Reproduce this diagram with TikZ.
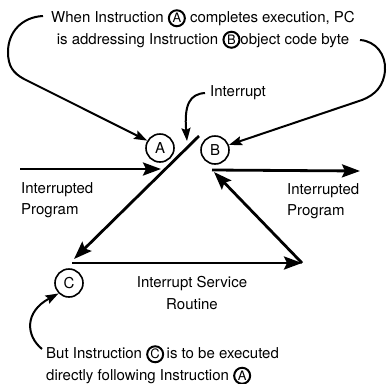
\documentclass[tikz,border=0pt]{standalone}
\usepackage{fontspec}
\setmainfont{TeX Gyre Heros}
\usepackage{tikz}
\usetikzlibrary{arrows.meta}
\newcommand{\circled}[1]{\tikz[baseline=(ltr.base)]\node[draw,circle,line width=2pt,inner sep=0pt,minimum size=16pt,font=\fontsize{13}{13}\selectfont](ltr){#1};}

\begin{document}
\begin{tikzpicture}[x=1pt,y=-1pt,
  lbl/.style={font=\fontsize{15}{21.5}\selectfont,inner sep=0pt},
  stage/.style={draw,circle,line width=1.6pt,minimum size=28pt,inner sep=0pt,font=\fontsize{15}{15}\selectfont},
  flow/.style={line width=2.8pt,-{Stealth[length=18pt,width=13pt,inset=3pt]}},
  note/.style={line width=2pt,-{Stealth[length=13pt,width=9pt,inset=2pt]}}]
  \useasboundingbox (0,0) rectangle (387,383);
  % texts
  \node[lbl,align=center] (topnote) at (203,29) {When Instruction \circled{A} completes execution, PC\\is addressing Instruction \circled{B}object code byte};
  \node[lbl,align=left,anchor=west] (botnote) at (46,365) {But Instruction \circled{C}\,is to be executed\\directly following Instruction \circled{A}};
  \node[lbl,anchor=west] (intr) at (210,93) {Interrupt};
  \node[lbl,align=left,anchor=west] (inL) at (21,200) {Interrupted\\Program};
  \node[lbl,align=left,anchor=west] (outR) at (287,201) {Interrupted\\Program};
  \node[lbl,align=center] (isr) at (192,293) {Interrupt Service\\Routine};
  % circled instructions
  \node[stage] (a) at (160,148) {A};
  \node[stage] (b) at (215,150) {B};
  \node[stage] (c) at (69,283) {C};
  % corners of the flow
  \coordinate (slashtop) at (199,136);
  \coordinate (lowleft) at (72,263);
  \coordinate (slashend) at (74,259);
  \coordinate (lowright) at (302,263);
  \coordinate (inS) at (20,169);
  \coordinate (inE) at (161,169);
  \coordinate (outS) at (212,170);
  \coordinate (outE) at (360,171);
  \coordinate (retE) at (214,172);
  \draw[flow] (inS) -- (inE);
  \draw[flow] (outS) -- (outE);
  \draw[flow] (slashtop) -- (slashend);
  \draw[flow] (lowleft) -- (lowright);
  \draw[flow] (lowright) -- (retE);
  % pointers from the notes
  \coordinate (tlS) at (43,16);
  \coordinate (trS) at (360,40);
  \coordinate (intS) at (205,93);
  \coordinate (intE) at (187,141);
  \coordinate (blS) at (42,349);
  \draw[note] (tlS) .. controls (22,17) and (8,32) .. (8,52) .. controls (8,66) and (13,73) .. (24,79) -- (a.150);
  \draw[note] (trS) .. controls (376,41) and (386,55) .. (385,70) .. controls (384,86) and (375,95) .. (362,100) -- (b.20);
  \draw[note] (intS) .. controls (190,94) and (184,104) .. (intE);
  \draw[note] (blS) .. controls (26,336) and (24,312) .. (c.225);
\end{tikzpicture}
\end{document}
